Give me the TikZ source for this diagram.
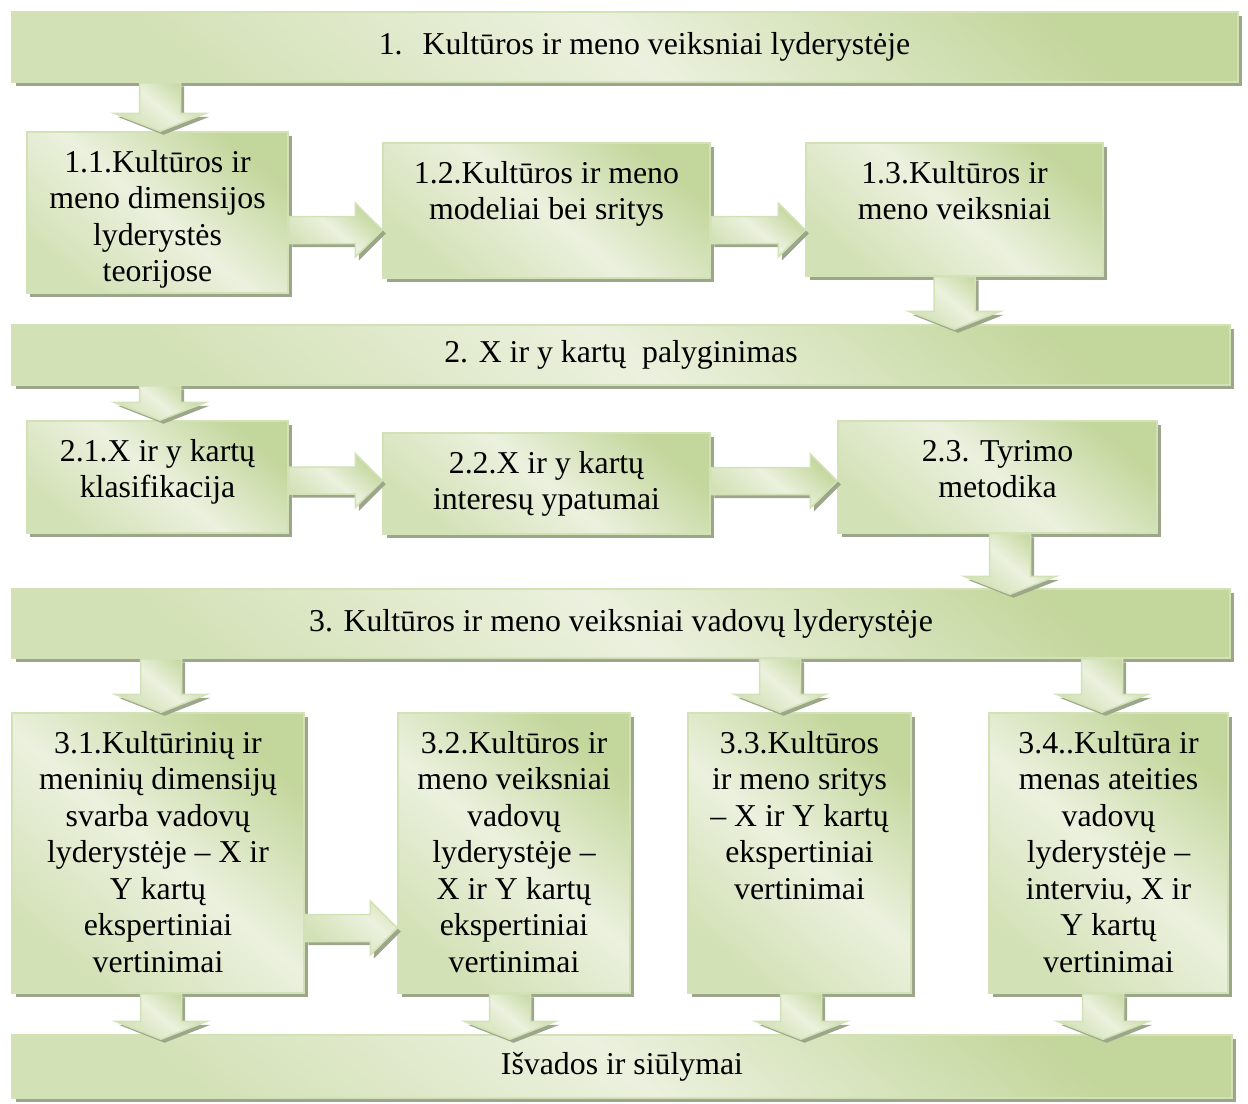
\documentclass[tikz,border=0pt]{standalone}
\usepackage{fontspec}
\setmainfont{Liberation Serif}
\usepackage{xcolor}
\usepackage{tikz}
\usetikzlibrary{calc,shadows}
\definecolor{leafdark}{HTML}{C3D69B}
\definecolor{leaflight}{HTML}{EBF1DE}
\definecolor{leafedge}{HTML}{D3E2B6}
\definecolor{leafshadow}{HTML}{9CA68A}

\begin{document}
\begin{tikzpicture}[
  font=\fontsize{18.1}{20.8}\selectfont,
  leaf/.style={top color=leafdark,bottom color=leafdark!60!leaflight,middle color=leaflight,shading angle=-40,
    draw=leafedge,line width=0.03cm,drop shadow={shadow xshift=0.07cm,shadow yshift=-0.07cm,fill=leafshadow,opacity=1}},
  bar/.style={leaf,inner sep=0pt,minimum width=24.36cm},
  cell/.style={leaf,inner xsep=0.1cm,inner ysep=0.2cm,align=flush center,text height=0.6cm},
  downarr/.style={to path={let \p1=(\tikztostart),\p2=(\tikztotarget),\n1={\x1+(#1)} in
    ({\n1-0.41cm},\y1) -- ({\n1+0.41cm},\y1) -- ({\n1+0.41cm},{\y2+0.36cm}) -- ({\n1+0.92cm},{\y2+0.36cm})
    -- ({\n1},\y2) -- ({\n1-0.92cm},{\y2+0.36cm}) -- ({\n1-0.41cm},{\y2+0.36cm}) -- cycle}},
  downarr/.default=0cm,
  rightarr/.style={to path={let \p1=(\tikztostart),\p2=(\tikztotarget),\n2={\y1+(#1)} in
    (\x1,{\n2+0.27cm}) -- ({\x2-0.54cm},{\n2+0.27cm}) -- ({\x2-0.54cm},{\n2+0.54cm}) -- (\x2,{\n2})
    -- ({\x2-0.54cm},{\n2-0.54cm}) -- ({\x2-0.54cm},{\n2-0.27cm}) -- (\x1,{\n2-0.27cm}) -- cycle}},
  rightarr/.default=0cm
]
\useasboundingbox (0,0) rectangle (24.96,-22.08);
% bars
\node[bar,minimum width=24.52cm,minimum height=1.4cm] (b1) at (12.5,-0.94) {\hspace*{0.78cm}1.\hspace{0.4cm}Kultūros ir meno veiksniai lyderystėje};
\node[bar,minimum height=1.2cm] (b2) at (12.42,-7.1) {2. X ir y kartų\ \ palyginimas};
\node[bar,minimum height=1.38cm] (b3) at (12.42,-12.47) {3. Kultūros ir meno veiksniai vadovų lyderystėje};
\node[bar,minimum width=24.4cm,minimum height=1.26cm] (b4) at (12.44,-21.33) {Išvados ir siūlymai};
% row 1
\node[cell,minimum width=5.22cm,text width=5.02cm,text depth=2.22cm] (n11) at (3.15,-4.25) {1.1.Kultūros ir\\meno dimensijos\\lyderystės\\teorijose};
\node[cell,minimum width=6.54cm,text width=6.34cm,text depth=1.7cm] (n12) at (10.93,-4.21) {1.2.Kultūros ir meno\\modeliai bei sritys};
\node[cell,minimum width=5.94cm,text width=5.74cm,text depth=1.66cm] (n13) at (19.09,-4.19) {1.3.Kultūros ir\\meno veiksniai};
% row 2
\node[cell,minimum width=5.22cm,text width=5.02cm,text depth=1.24cm] (n21) at (3.15,-9.54) {2.1.X ir y kartų\\klasifikacija};
\node[cell,minimum width=6.54cm,text width=6.34cm,text depth=1.02cm] (n22) at (10.93,-9.67) {2.2.X ir y kartų\\interesų ypatumai};
\node[cell,minimum width=6.38cm,text width=6.18cm,text depth=1.24cm] (n23) at (19.95,-9.54) {2.3. Tyrimo\\metodika};
% row 3
\node[cell,minimum width=5.84cm,text width=5.64cm,text depth=4.6cm] (n31) at (3.16,-17.06) {3.1.Kultūrinių ir\\meninių dimensijų\\svarba vadovų\\lyderystėje – X ir\\Y kartų\\ekspertiniai\\vertinimai};
\node[cell,minimum width=4.64cm,text width=4.44cm,text depth=4.6cm] (n32) at (10.28,-17.06) {3.2.Kultūros ir\\meno veiksniai\\vadovų\\lyderystėje –\\X ir Y kartų\\ekspertiniai\\vertinimai};
\node[cell,minimum width=4.46cm,text width=4.26cm,text depth=4.6cm] (n33) at (15.99,-17.06) {3.3.Kultūros\\ir meno sritys\\– X ir Y kartų\\ekspertiniai\\vertinimai};
\node[cell,minimum width=4.78cm,text width=4.58cm,text depth=4.6cm] (n34) at (22.17,-17.06) {3.4..Kultūra ir\\menas ateities\\vadovų\\lyderystėje –\\interviu, X ir\\Y kartų\\vertinimai};
% block arrows
\path[leaf,downarr=0.05cm] (b1.south -| n11.north) to (n11.north);
\path[leaf,rightarr=-0.35cm] (n11.east) to (n12.west);
\path[leaf,rightarr=-0.39cm] (n12.east) to (n13.west);
\path[leaf,downarr] (n13.south) to ([yshift=-0.1cm]b2.north);
\path[leaf,downarr=0.05cm] (b2.south -| n21.north) to (n21.north);
\path[leaf,rightarr=-0.07cm] (n21.east) to (n22.west);
\path[leaf,rightarr=0.05cm] (n22.east) to (n23.west);
\path[leaf,downarr=0.25cm] (n23.south) to ([yshift=-0.12cm]b3.north);
\path[leaf,downarr=0.06cm] (b3.south -| n31.north) to (n31.north);
\path[leaf,downarr=-0.39cm] (b3.south -| n33.north) to (n33.north);
\path[leaf,downarr=-0.13cm] (b3.south -| n34.north) to (n34.north);
\path[leaf,rightarr=-1.5cm] (n31.east) to (n32.west);
\path[leaf,downarr=0.06cm] (n31.south) to ([yshift=-0.1cm]b4.north);
\path[leaf,downarr=-0.08cm] (n32.south) to ([yshift=-0.1cm]b4.north);
\path[leaf,downarr=0.03cm] (n33.south) to ([yshift=-0.1cm]b4.north);
\path[leaf,downarr=-0.11cm] (n34.south) to ([yshift=-0.1cm]b4.north);
\end{tikzpicture}
\end{document}
